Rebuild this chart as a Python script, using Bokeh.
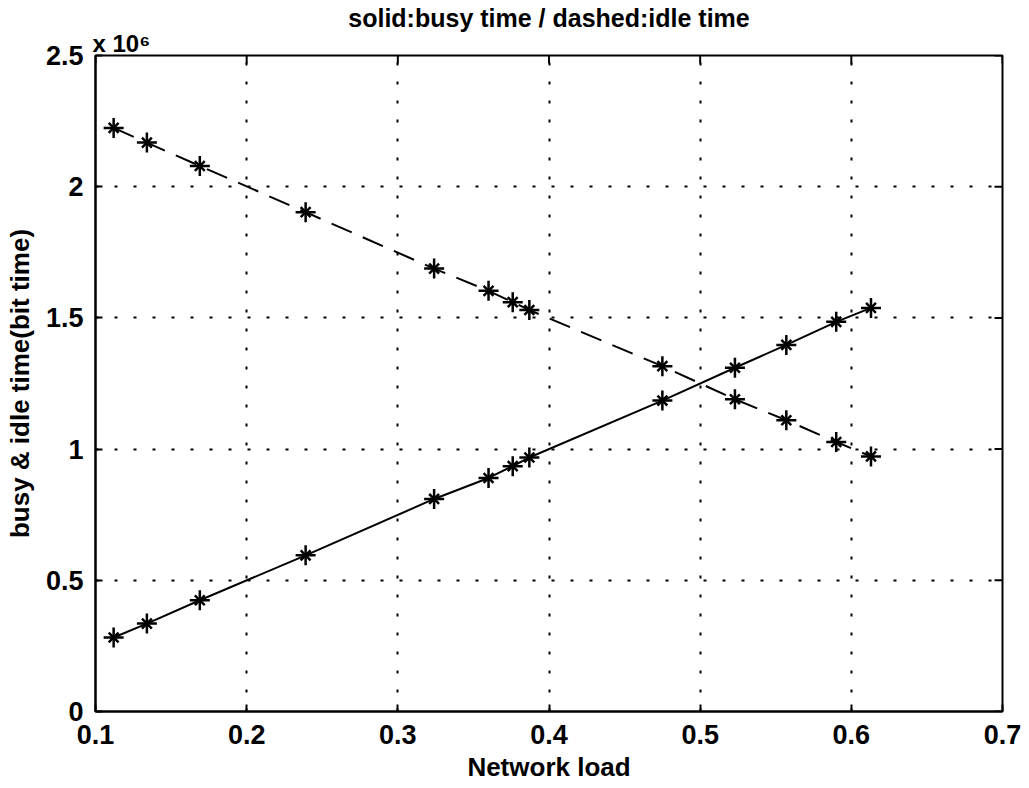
import math
from bokeh.plotting import figure
from bokeh.models import Range1d, FixedTicker, NumeralTickFormatter, Title
from bokeh.embed import file_html
from bokeh.resources import INLINE

# ---- data ----
network_load = [0.112, 0.134, 0.169, 0.239, 0.324, 0.360, 0.376, 0.387,
                0.475, 0.523, 0.557, 0.590, 0.613]
# values in units of 10^6 bit times
busy_time = [0.282, 0.335, 0.424, 0.595, 0.810, 0.890, 0.935, 0.968,
             1.185, 1.310, 1.397, 1.485, 1.538]
idle_time = [2.224, 2.168, 2.079, 1.903, 1.688, 1.603, 1.560, 1.530,
             1.316, 1.190, 1.110, 1.027, 0.972]
x_ticks = [0.1, 0.2, 0.3, 0.4, 0.5, 0.6, 0.7]
y_ticks = [0, 0.5, 1.0, 1.5, 2.0, 2.5]

title_text = "solid:busy time / dashed:idle time"
multiplier_text = "x 10\u2076"
x_label = "Network load"
y_label = "busy & idle time(bit time)"

FONT = "Liberation Sans"
X0, X1 = 0.1, 0.7
Y0, Y1 = 0, 2.5

p = figure(width=1029, height=788, output_backend="svg", toolbar_location=None,
           x_range=Range1d(X0, X1), y_range=Range1d(Y0, Y1),
           min_border_left=95, min_border_right=27, min_border_top=55,
           min_border_bottom=77)
p.background_fill_color = "white"
p.border_fill_color = "white"
p.outline_line_color = "black"
p.outline_line_width = 2

# multiplier (closest to the frame), then main title outermost
mult = Title(text=multiplier_text, align="left",
             text_font=FONT, text_font_size="24px",
             text_font_style="bold", text_color="black",
             standoff=-2, offset=-3)
p.add_layout(mult, "above")

p.title.text = title_text
p.title.align = "center"
p.title.text_font = FONT
p.title.text_font_size = "25px"
p.title.text_font_style = "bold"
p.title.text_color = "black"
p.title.standoff = -6

for ax in (p.xaxis[0], p.yaxis[0]):
    ax.axis_line_width = 2
    ax.axis_line_color = "black"
    ax.major_tick_in = 7
    ax.major_tick_out = 0
    ax.major_tick_line_width = 2
    ax.minor_tick_in = 0
    ax.minor_tick_out = 0
    ax.major_label_text_font = FONT
    ax.major_label_text_font_size = "27px"
    ax.major_label_text_font_style = "bold"
    ax.major_label_text_color = "black"
    ax.axis_label_text_font = FONT
    ax.axis_label_text_font_size = "26px"
    ax.axis_label_text_font_style = "bold"
    ax.axis_label_text_color = "black"

p.xaxis[0].ticker = FixedTicker(ticks=x_ticks)
p.yaxis[0].ticker = FixedTicker(ticks=y_ticks)
p.yaxis[0].formatter = NumeralTickFormatter(format="0.[0]")
p.xaxis[0].axis_label = x_label
p.yaxis[0].axis_label = y_label
p.xaxis[0].major_label_standoff = 13
p.yaxis[0].major_label_standoff = 12
p.xaxis[0].axis_label_standoff = 5
p.yaxis[0].axis_label_standoff = 8

p.grid.grid_line_color = "black"
p.grid.grid_line_width = 2
p.grid.grid_line_dash = "3 16"
p.xgrid.ticker = FixedTicker(ticks=x_ticks)
p.ygrid.ticker = FixedTicker(ticks=y_ticks)

# inward box ticks on top and right edges (half of each dash is clipped by the frame)
p.scatter(x_ticks, [Y1] * len(x_ticks), marker="dash", angle=math.pi / 2, size=16,
          line_color="black", line_width=2)
p.scatter([X1] * len(y_ticks), y_ticks, marker="dash", size=16,
          line_color="black", line_width=2)

# data lines
p.line(network_load, busy_time, line_color="black", line_width=2)
p.line(network_load, idle_time, line_color="black", line_width=2, line_dash="22 12")
for ys in (busy_time, idle_time):
    p.scatter(network_load, ys, marker="cross", size=20, line_color="black", line_width=2.5)
    p.scatter(network_load, ys, marker="x", size=14, line_color="black", line_width=2.5)

open("out.html", "w").write(file_html(p, INLINE))
